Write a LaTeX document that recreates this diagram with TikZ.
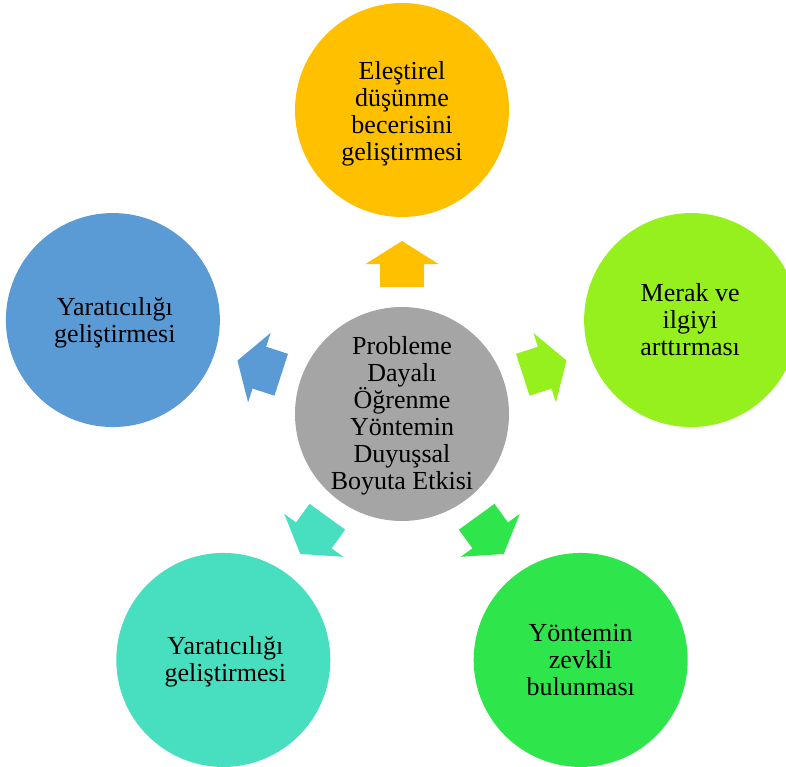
\documentclass[tikz,border=0pt]{standalone}
\usepackage{fontspec}
\setmainfont{Liberation Serif}
\usetikzlibrary{calc}
\definecolor{cgray}{HTML}{A5A5A5}
\definecolor{cgold}{HTML}{FFC000}
\definecolor{clime}{HTML}{96F01E}
\definecolor{cblue}{HTML}{5B9BD5}
\definecolor{cteal}{HTML}{48DFC0}
\definecolor{cgreen}{HTML}{2EE64B}
\tikzset{
  bubble/.style={circle, minimum size=214pt, inner sep=0pt, draw=none},
  txt/.style={align=center, inner sep=0pt, font=\fontsize{26}{27}\selectfont},
}
\begin{document}
\begin{tikzpicture}[x=1pt, y=-1pt]
\useasboundingbox (0,0) rectangle (786,767);
\clip (0,0) rectangle (786,767);
\coordinate (O) at (402,414);
\node[bubble, fill=cgray] (c) at (O) {};
\node[txt] (ct) at (402,416) {Probleme\\Dayalı\\Öğrenme\\Yöntemin\\Duyuşsal\\Boyuta Etkisi};
\foreach \ang/\col/\nm in {90/cgold/t, 18/clime/r, 162/cblue/l, 234/cteal/bl, 306/cgreen/br}{
  \node[bubble, fill=\col] (\nm) at ($(O)+(-\ang:304)$) {};
  \begin{scope}[shift={(O)}, rotate=\ang]
    \fill[\col] (127,-22) -- (150,-22) -- (150,-36.5) -- (173,0) -- (150,36.5) -- (150,22) -- (127,22) -- cycle;
  \end{scope}
}
\node[txt] (tt) at ([yshift=-4]t) {Eleştirel\\düşünme\\becerisini\\geliştirmesi};
\node[txt] (rt) at ([xshift=-1]r) {Merak ve\\ilgiyi\\arttırması};
\node[txt] (lt) at ([xshift=2,yshift=-3]l) {Yaratıcılığı\\geliştirmesi};
\node[txt] (blt) at ([xshift=2,yshift=-2]bl) {Yaratıcılığı\\geliştirmesi};
\node[txt] (brt) at (br) {Yöntemin\\zevkli\\bulunması};
\end{tikzpicture}
\end{document}
